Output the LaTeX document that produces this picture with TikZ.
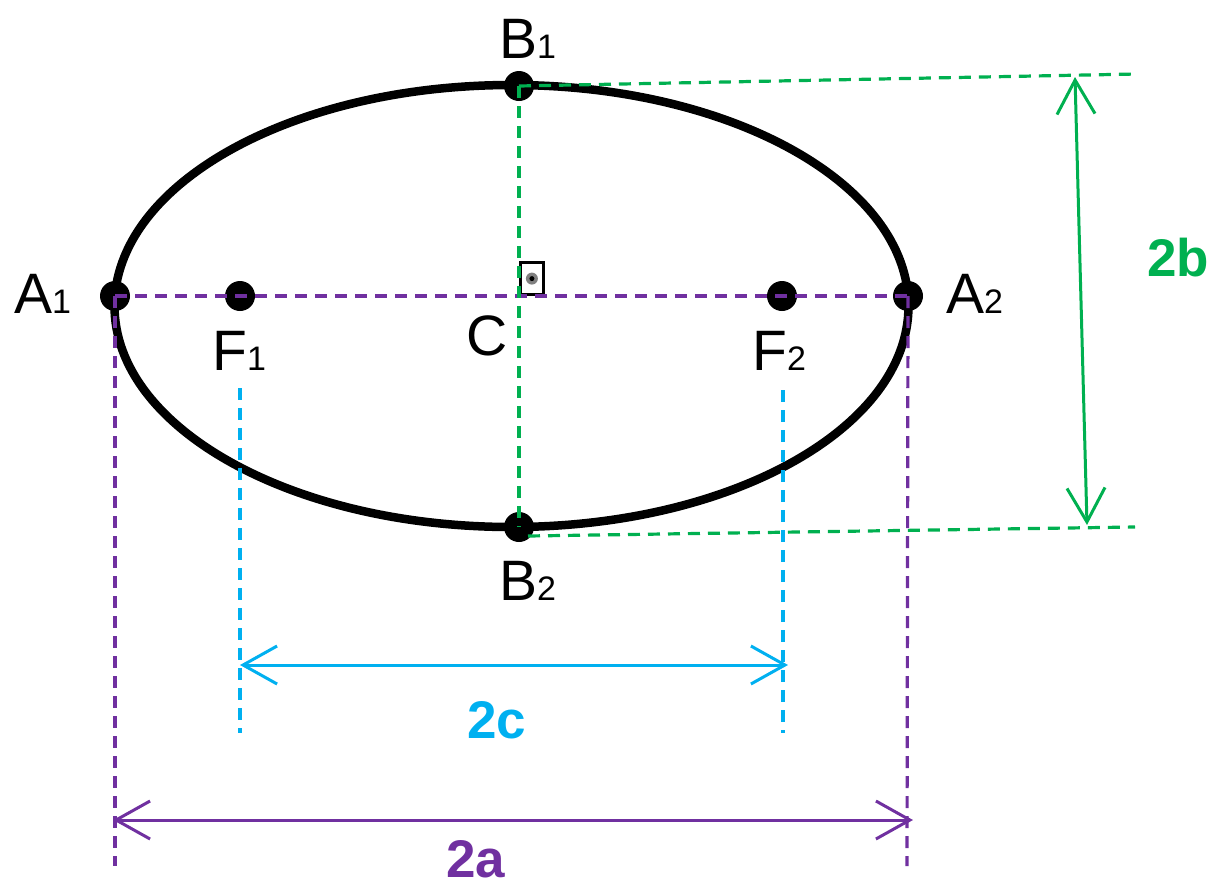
\documentclass[tikz,border=0pt]{standalone}
\usepackage{fontspec}
\setmainfont{Liberation Sans}
\usetikzlibrary{arrows.meta}
\newcommand{\SemiMajor}{397}
\newcommand{\SemiMinor}{221}
\definecolor{MajorAxis}{HTML}{7030A0}
\definecolor{MinorAxis}{HTML}{00B050}
\definecolor{FocalAxis}{HTML}{00B0F0}
\newcommand{\Idx}[1]{{\fontsize{34}{38}\selectfont #1}}

\tikzset{
  vertex/.style={circle, fill=black, inner sep=0pt, minimum size=30pt},
  guide/.style={line width=3.2pt, dash pattern=on 12pt off 8pt},
  span/.style={
    line width=3pt,
    {Straight Barb[length=34pt,width=38pt]}-{Straight Barb[length=34pt,width=38pt]}
  },
  pointname/.style={anchor=base west, inner sep=0pt, font=\fontsize{57}{60}\selectfont},
  spanname/.style={anchor=base west, inner sep=0pt, font=\fontsize{53}{56}\selectfont\bfseries},
}

\begin{document}
\begin{tikzpicture}[x=1pt,y=-1pt]

  \useasboundingbox (0,0) rectangle (1221,887);

  \draw[line width=8.5pt]
    (511.5,306) ellipse [x radius=\SemiMajor, y radius=\SemiMinor];

  \node[vertex] (A1) at (115,296) {};
  \node[vertex] (A2) at (908,296) {};
  \node[vertex] (F1) at (240,296) {};
  \node[vertex] (F2) at (782,296) {};
  \node[vertex] (B1) at (519,86) {};
  \node[vertex] (B2) at (519,527) {};
  \coordinate (C) at (519,296);

  \coordinate (A1foot) at (115,866);
  \coordinate (A2foot) at (907,866);
  \coordinate (B1far) at (1137,74);
  \coordinate (B2near) at (528,536);
  \coordinate (B2far) at (1135,527);
  \coordinate (F1top) at (240,388);
  \coordinate (F1foot) at (240,733);
  \coordinate (F2top) at (783,390);
  \coordinate (F2foot) at (783,733);

  \coordinate (MajorLeft) at (113,820);
  \coordinate (MajorRight) at (913,820);
  \coordinate (FocalLeft) at (240,665);
  \coordinate (FocalRight) at (788,665);
  \coordinate (MinorTop) at (1075,77);
  \coordinate (MinorBottom) at (1087,525);

  \node[
    draw,
    line width=2.8pt,
    inner sep=0pt,
    minimum width=23pt,
    minimum height=32pt,
    anchor=south west
  ] (RightMark) at (C) {};
  \fill[gray] (RightMark.center) circle [radius=6];
  \fill[black] (RightMark.center) circle [radius=2.5];

  \draw[guide, MajorAxis] (A1.center) -- (A2.center);
  \draw[guide, MajorAxis] (A1.center) -- (A1foot);
  \draw[guide, MajorAxis] (A2.center) -- (A2foot);
  \draw[guide, MinorAxis] (B1.center) -- (B2.center);
  \draw[guide, MinorAxis] (B1.center) -- (B1far);
  \draw[guide, MinorAxis] (B2near) -- (B2far);
  \draw[guide, FocalAxis] (F1top) -- (F1foot);
  \draw[guide, FocalAxis] (F2top) -- (F2foot);

  \draw[span, MajorAxis] (MajorLeft) -- (MajorRight);
  \draw[span, FocalAxis] (FocalLeft) -- (FocalRight);
  \draw[span, MinorAxis] (MinorTop) -- (MinorBottom);

  \node[pointname] (A1name) at (14,313) {A\Idx{1}};
  \node[pointname] (A2name) at (946,313) {A\Idx{2}};
  \node[pointname] (F1name) at (212,370) {F\Idx{1}};
  \node[pointname] (F2name) at (752,370) {F\Idx{2}};
  \node[pointname] (Cname) at (466,355) {C};
  \node[pointname] (B1name) at (499,58) {B\Idx{1}};
  \node[pointname] (B2name) at (499,600) {B\Idx{2}};

  \node[spanname, text=MinorAxis] (MinorName) at (1147,276) {2b};
  \node[spanname, text=FocalAxis] (FocalName) at (467,738) {2c};
  \node[spanname, text=MajorAxis] (MajorName) at (446,877) {2a};

\end{tikzpicture}
\end{document}
